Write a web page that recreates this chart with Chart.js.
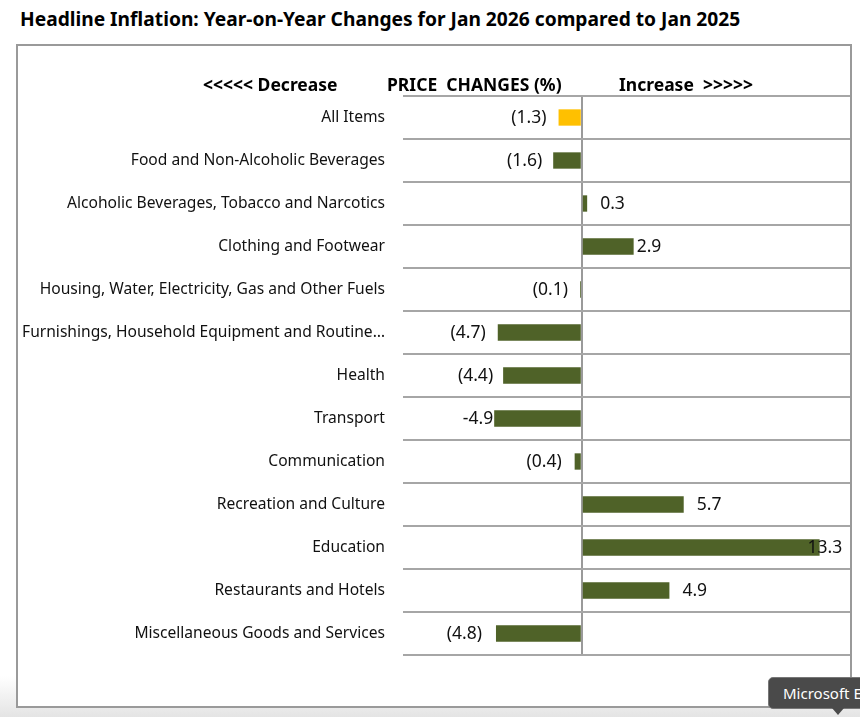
<!DOCTYPE html>
<html>
<head>
<meta charset="utf-8">
<script src="https://cdn.jsdelivr.net/npm/chart.js@4.4.1/dist/chart.umd.min.js"></script>
<style>
    body { margin: 0; width: 860px; height: 717px; position: relative; overflow: hidden; background: #fff; font-family: "Noto Sans", sans-serif; }
    #shade { position: absolute; left: 0; top: 676px; width: 860px; height: 41px; background: linear-gradient(#fff, #e4e4e4); }
    #title { position: absolute; left: 20px; top: 5px; font-size: 19.2px; font-weight: bold; color: #000; white-space: nowrap; }
    #frame { position: absolute; left: 16px; top: 44px; width: 832px; height: 660px; border: 2px solid #9a9a9a; background: #fff; }
    #chart-wrap { position: absolute; left: 0; top: 0; width: 860px; height: 717px; }
    #tip { position: absolute; left: 768px; top: 677px; width: 100px; height: 30px; background: #4a4a4a; border: 1px solid #777; border-radius: 5px; color: #fff; font-size: 15px; line-height: 30px; padding-left: 14px; white-space: nowrap; }
    #tip-arrow { position: absolute; left: 832px; top: 708px; width: 0; height: 0; border-left: 6px solid transparent; border-right: 6px solid transparent; border-top: 7px solid #4a4a4a; }
</style>
</head>
<body>
<div id="shade"></div>
<div id="title">Headline Inflation: Year-on-Year Changes for Jan 2026 compared to Jan 2025</div>
<div id="frame"></div>
<div id="chart-wrap"><canvas id="inflation-chart" width="860" height="717"></canvas></div>
<div id="tip">Microsoft E</div>
<div id="tip-arrow"></div>
<script>
const categories = [
    'All Items',
    'Food and Non-Alcoholic Beverages',
    'Alcoholic Beverages, Tobacco and Narcotics',
    'Clothing and Footwear',
    'Housing, Water, Electricity, Gas and Other Fuels',
    'Furnishings, Household Equipment and Routine\u2026',
    'Health',
    'Transport',
    'Communication',
    'Recreation and Culture',
    'Education',
    'Restaurants and Hotels',
    'Miscellaneous Goods and Services'
];
const priceChanges = [-1.3, -1.6, 0.3, 2.9, -0.1, -4.7, -4.4, -4.9, -0.4, 5.7, 13.3, 4.9, -4.8];
const valueLabels = ['(1.3)', '(1.6)', '0.3', '2.9', '(0.1)', '(4.7)', '(4.4)', '-4.9', '(0.4)', '5.7', '13.3', '4.9', '(4.8)'];
const headerTexts = ['<<<<< Decrease', 'PRICE  CHANGES (%)', 'Increase  >>>>>'];

// gap between bar end and its label, in px
const labelGap = [12, 11, 13, 3, 12, 12, 10, 1, 13, 13, -12, 13, 14];

const barColors = categories.map((c, i) => i === 0 ? '#ffc000' : '#4f6228');

const labelPlugin = {
    id: 'labelPlugin',
    afterDatasetsDraw(chart) {
        const ctx = chart.ctx;
        const meta = chart.getDatasetMeta(0);
        ctx.save();
        ctx.font = '17.5px "Noto Sans"';
        ctx.fillStyle = '#111';
        ctx.textBaseline = 'middle';
        meta.data.forEach((bar, i) => {
            const v = priceChanges[i];
            if (v < 0) {
                ctx.textAlign = 'right';
                ctx.fillText(valueLabels[i], bar.x - labelGap[i], bar.y + 1);
            } else {
                ctx.textAlign = 'left';
                ctx.fillText(valueLabels[i], bar.x + labelGap[i], bar.y + 1);
            }
        });
        // header row
        ctx.font = 'bold 17.5px "Noto Sans"';
        ctx.textAlign = 'left';
        ctx.fillStyle = '#000';
        ctx.fillText(headerTexts[0], 203, 86);
        ctx.fillText(headerTexts[1], 387, 86);
        ctx.fillText(headerTexts[2], 619, 86);
        ctx.restore();
    }
};

const ctx = document.getElementById('inflation-chart').getContext('2d');
const inflationChart = new Chart(ctx, {
    type: 'bar',
    data: {
        labels: categories,
        datasets: [{
            data: priceChanges,
            backgroundColor: barColors,
            borderWidth: 0,
            barPercentage: 0.38,
            categoryPercentage: 1
        }]
    },
    options: {
        indexAxis: 'y',
        responsive: false,
        animation: false,
        layout: { padding: { left: 0, right: 10, top: 96, bottom: 62 } },
        plugins: {
            legend: { display: false },
            tooltip: { enabled: false }
        },
        scales: {
            x: {
                min: -10,
                max: 15,
                ticks: { display: false, stepSize: 5 },
                border: { display: false },
                grid: {
                    drawTicks: false,
                    lineWidth: 2,
                    color: (c) => c.tick && c.tick.value === 0 ? '#9a9a9a' : 'rgba(0,0,0,0)'
                },
                afterFit: (scale) => { scale.height = 0; }
            },
            y: {
                border: { display: false },
                grid: {
                    offset: true,
                    drawTicks: false,
                    lineWidth: 2,
                    color: '#a6a6a6'
                },
                ticks: {
                    padding: 18,
                    color: '#111',
                    font: { family: 'Noto Sans', size: 15.6 }
                },
                afterFit: (scale) => { scale.width = 403; }
            }
        }
    },
    plugins: [labelPlugin]
});
</script>
</body>
</html>
